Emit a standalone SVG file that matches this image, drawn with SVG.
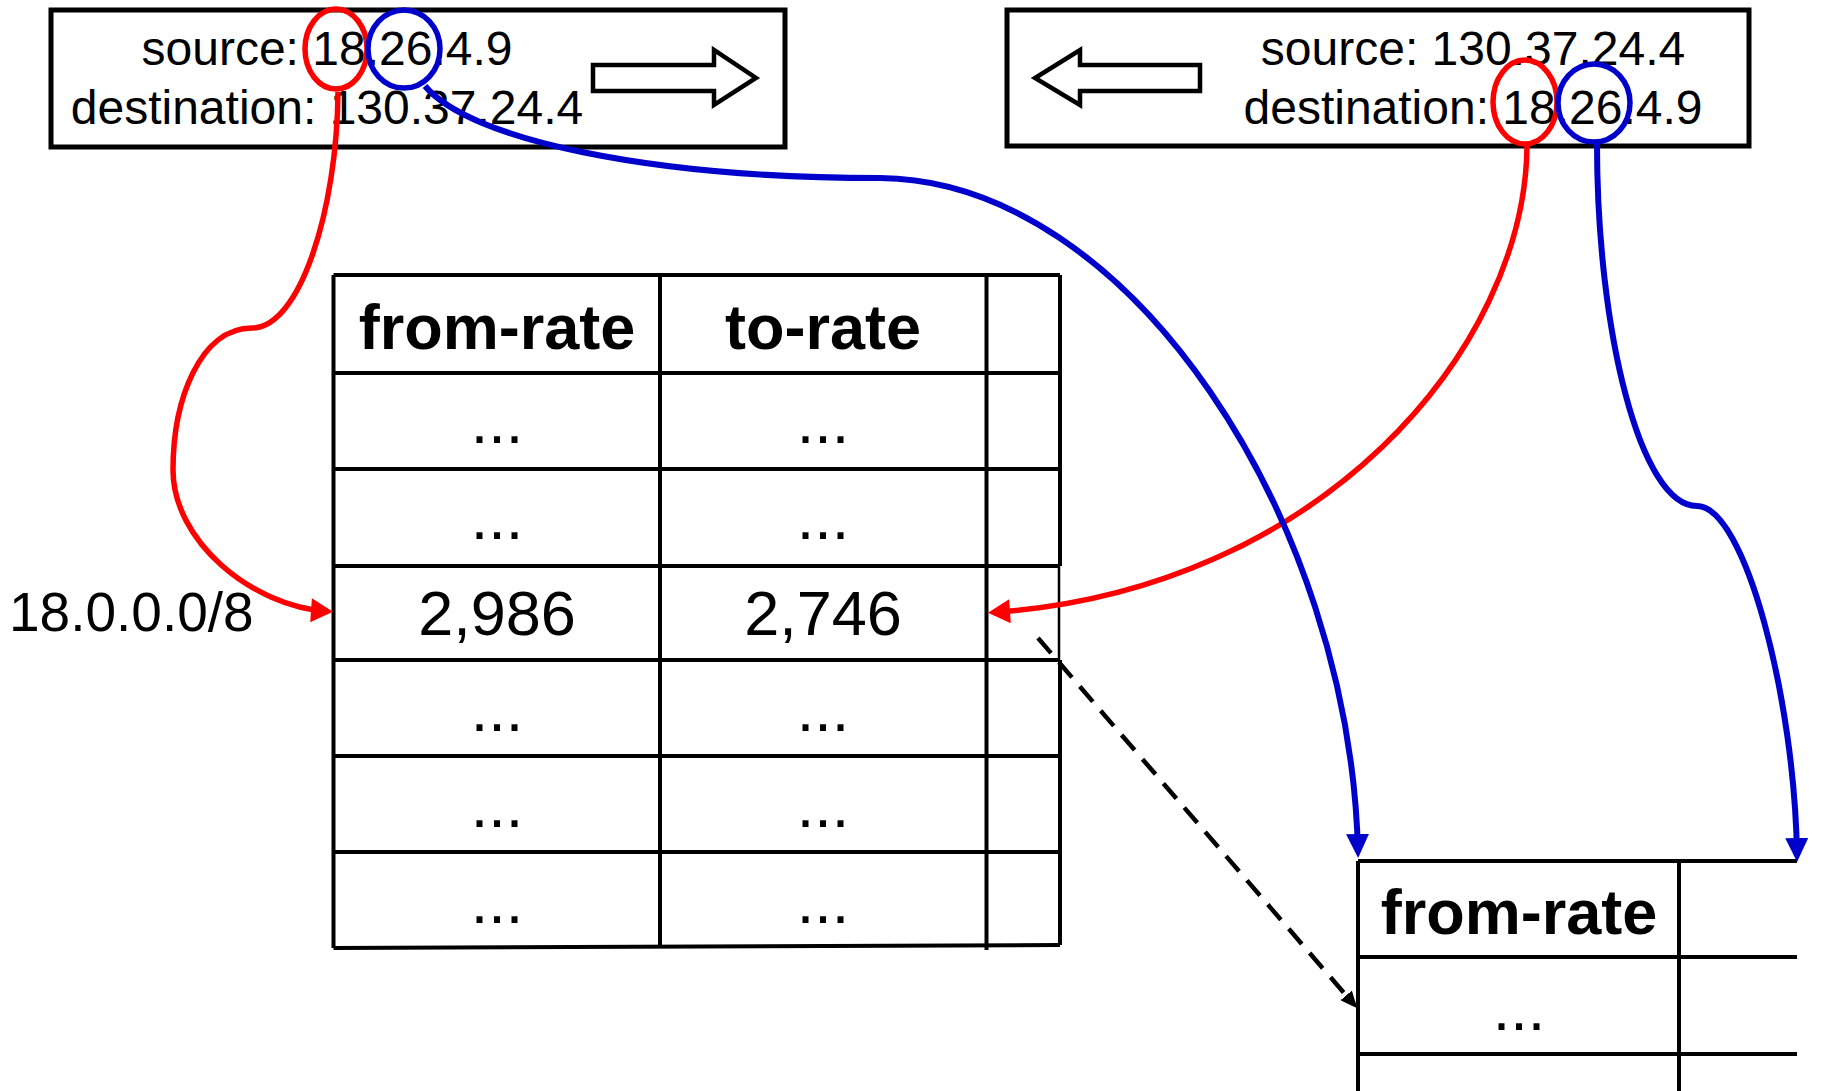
<svg xmlns="http://www.w3.org/2000/svg" width="1822" height="1091" viewBox="0 0 1822 1091">
  <style>
    .box { fill: #fff; stroke: #000; stroke-width: 5; }
    .hollow { fill: #fff; stroke: #000; stroke-width: 4.5; stroke-linejoin: miter; }
    .addr { font-family: "Liberation Sans", Arial, sans-serif; font-size: 48px; fill: #000; text-anchor: middle; }
    .grid { stroke: #000; stroke-width: 4; fill: none; }
    .head { font-family: "Liberation Sans", Arial, sans-serif; font-size: 63px; font-weight: bold; fill: #000; text-anchor: middle; }
    .cell { font-family: "Liberation Sans", Arial, sans-serif; font-size: 63px; fill: #000; text-anchor: middle; }
    .label { font-family: "Liberation Sans", Arial, sans-serif; font-size: 55px; fill: #000; }
    .ring-red { fill: none; stroke: #ff0000; stroke-width: 5.5; }
    .ring-blue { fill: none; stroke: #0000cc; stroke-width: 5.5; }
    .link-red { fill: none; stroke: #ff0000; stroke-width: 5.5; marker-end: url(#tip-red); }
    .link-blue { fill: none; stroke: #0000cc; stroke-width: 6; marker-end: url(#tip-blue); }
    .link-dash { fill: none; stroke: #000; stroke-width: 4.5; stroke-dasharray: 20 12; marker-end: url(#tip-black); }
  </style>
  <defs>
    <marker id="tip-red" markerUnits="userSpaceOnUse" markerWidth="24" markerHeight="24" viewBox="0 0 22 24" refX="17" refY="12" orient="auto">
      <path d="M0,0 L22,12 L0,24 z" fill="#ff0000"/>
    </marker>
    <marker id="tip-blue" markerUnits="userSpaceOnUse" markerWidth="24" markerHeight="24" viewBox="0 0 24 23" refX="18" refY="11.5" orient="auto">
      <path d="M0,0 L24,11.5 L0,23 z" fill="#0000cc"/>
    </marker>
    <marker id="tip-black" markerUnits="userSpaceOnUse" markerWidth="17" markerHeight="15" viewBox="0 0 17 15" refX="12" refY="7.5" orient="auto">
      <path d="M0,0 L17,7.5 L0,15 z" fill="#000"/>
    </marker>
  </defs>

  <!-- outgoing packet -->
  <g id="packet-out">
    <rect class="box" x="51" y="10" width="734" height="137"/>
    <text class="addr" x="327" y="65">source: 18.26.4.9</text>
    <text class="addr" x="327" y="124">destination: 130.37.24.4</text>
    <polygon class="hollow" points="593,65 714,65 714,50 756,78 714,105 714,91 593,91"/>
    <ellipse class="ring-red" cx="336" cy="49" rx="31" ry="40"/>
    <ellipse class="ring-blue" cx="404" cy="49" rx="36" ry="39"/>
  </g>

  <!-- returning packet -->
  <g id="packet-in">
    <rect class="box" x="1007" y="10" width="742" height="136"/>
    <text class="addr" x="1473" y="65">source: 130.37.24.4</text>
    <text class="addr" x="1473" y="124">destination: 18.26.4.9</text>
    <polygon class="hollow" points="1200,65 1080,65 1080,50 1035,78 1080,105 1080,91 1200,91"/>
    <ellipse class="ring-red" cx="1525" cy="102" rx="32" ry="42"/>
    <ellipse class="ring-blue" cx="1594" cy="103" rx="36" ry="39"/>
  </g>

  <!-- first-level rate table -->
  <g id="table-main">
    <path class="grid" d="M333.5,275 H1060 M333.5,373 H1060 M333.5,469 H1060 M333.5,566 H1060 M333.5,660 H1060 M333.5,756 H1060 M333.5,852 H1060 M333.5,948 L1060,945"/>
    <path class="grid" d="M333.5,275 V948 M660,275 V947 M986.5,275 V950 M1060,275 V566 M1060,660 V945"/>
    <line x1="1059" y1="566" x2="1059" y2="660" stroke="#000" stroke-width="2.5"/>
    <text class="head" x="497" y="349">from-rate</text>
    <text class="head" x="823" y="349">to-rate</text>
    <text class="cell" x="497" y="443">...</text>
    <text class="cell" x="823" y="443">...</text>
    <text class="cell" x="497" y="539">...</text>
    <text class="cell" x="823" y="539">...</text>
    <text class="cell" x="497" y="635">2,986</text>
    <text class="cell" x="823" y="635">2,746</text>
    <text class="cell" x="497" y="731">...</text>
    <text class="cell" x="823" y="731">...</text>
    <text class="cell" x="497" y="827">...</text>
    <text class="cell" x="823" y="827">...</text>
    <text class="cell" x="497" y="923">...</text>
    <text class="cell" x="823" y="923">...</text>
  </g>

  <g id="prefix-label">
    <text class="label" x="9" y="631">18.0.0.0/8</text>
  </g>

  <!-- second-level rate table (partly off the edge) -->
  <g id="table-sub">
    <path class="grid" d="M1358,861 H1797 M1358,957 H1797 M1358,1054 H1797"/>
    <path class="grid" d="M1358,861 V1091 M1679,861 V1091"/>
    <text class="head" x="1519" y="934">from-rate</text>
    <text class="cell" x="1519" y="1030">...</text>
  </g>

  <!-- connectors -->
  <g id="connectors">
    <path class="link-red" d="M338,92 C337,210 300,328 252,328 C200,328 173,400 173,470 C173,540 250,606 328,611.5"/>
    <path class="link-red" d="M1527,146 C1525,350 1320,590 993,612.5"/>
    <path class="link-blue" d="M425,86 C470,140 650,178 880,178 C1130,180 1350,520 1358,852"/>
    <path class="link-blue" d="M1597,144 C1597,330 1640,506 1697,506 C1745,506 1795,700 1797,856"/>
    <path class="link-dash" d="M1038,638 L1354,1004.5"/>
  </g>
</svg>
